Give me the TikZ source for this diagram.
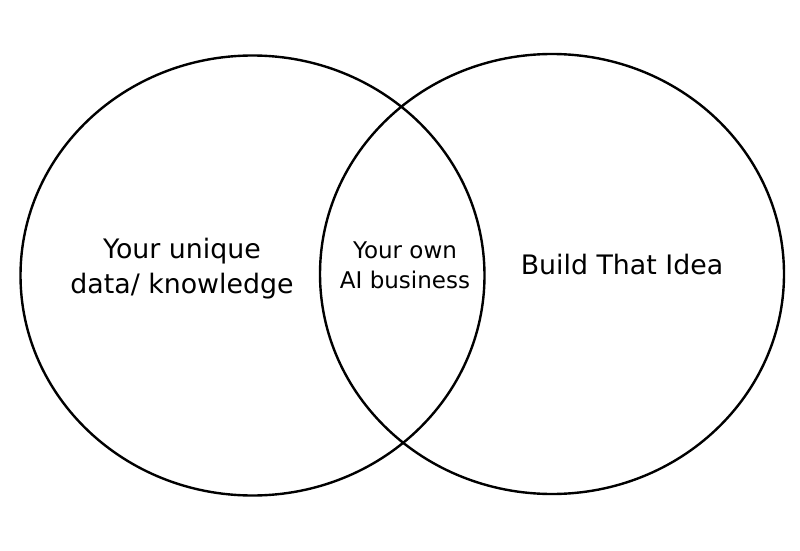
\documentclass[tikz,border=0pt]{standalone}
\usepackage{fontspec}
\setmainfont{DejaVu Sans}
\begin{document}
\begin{tikzpicture}[x=1pt,y=-1pt,
  ring/.style={draw=black,line width=2.4pt},
  bigtxt/.style={align=center,font=\fontsize{26.8}{35}\selectfont,text=black},
  smalltxt/.style={align=center,font=\fontsize{23}{30}\selectfont,text=black}]
\useasboundingbox[fill=white] (0,0) rectangle (800,551);
\draw[ring] (252.5,275.5) ellipse[x radius=232,y radius=220];
\draw[ring] (552,274) ellipse[x radius=232,y radius=220];
\node[bigtxt] (left) at (182,268.5) {Your unique\\data/ knowledge};
\node[smalltxt] (mid) at (405,265.5) {Your own\\AI business};
\node[bigtxt] (right) at (622,265) {Build That Idea};
\end{tikzpicture}
\end{document}
